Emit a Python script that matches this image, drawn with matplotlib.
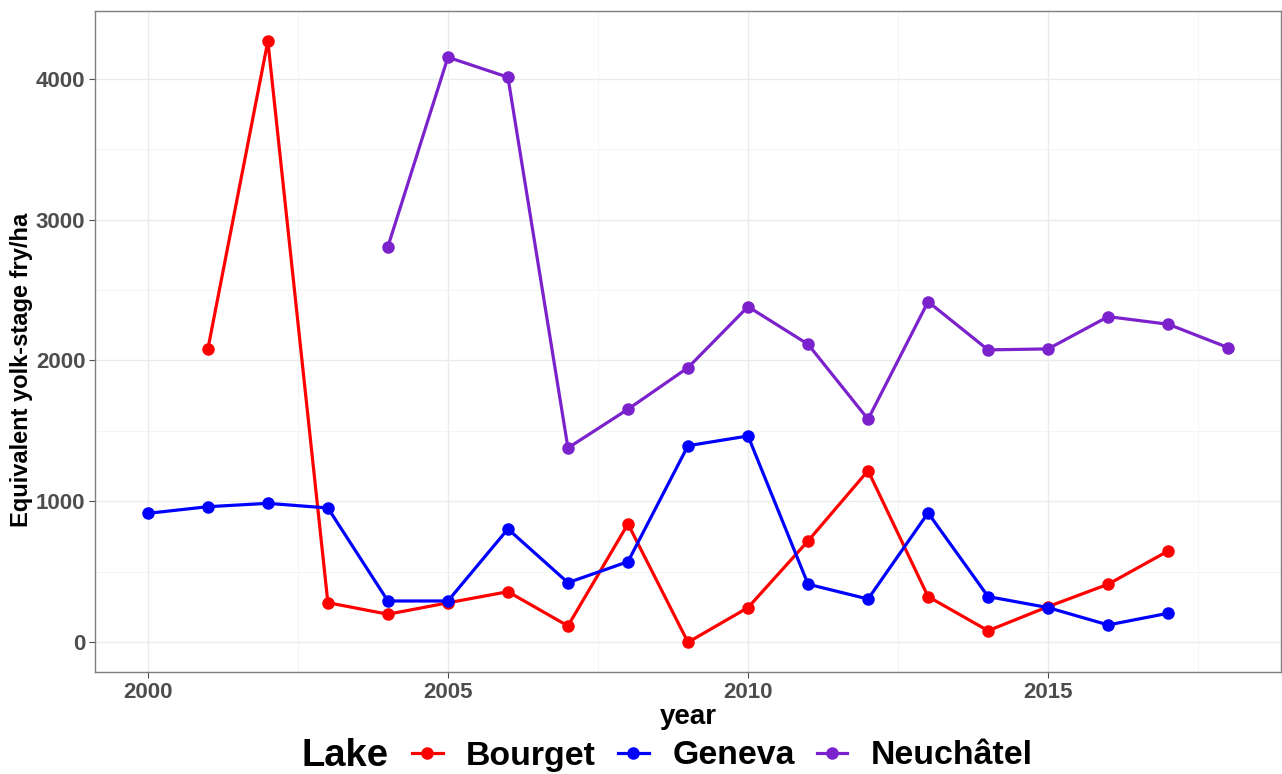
import matplotlib.pyplot as plt
from matplotlib.ticker import MultipleLocator

plt.rcParams['font.family'] = ['Liberation Sans', 'DejaVu Sans']

# data
bourget_years = list(range(2001, 2018))
bourget_vals = [2080, 4266, 281, 199, 280, 359, 116, 840, 0, 246,
                719, 1218, 324, 82, 253, 412, 648]

geneva_years = list(range(2000, 2018))
geneva_vals = [915, 962, 986, 953, 293, 293, 804, 423, 572, 1395,
               1464, 412, 307, 918, 324, 246, 123, 206]

neuch_years = list(range(2004, 2019))
neuch_vals = [2808, 4152, 4010, 1379, 1654, 1949, 2382, 2115, 1583,
              2417, 2075, 2082, 2311, 2257, 2091]

lakes = ['Bourget', 'Geneva', 'Neuchâtel']
colors = ['#ff0000', '#0000ff', '#7b22cc']

W, H = 1282, 774
fig = plt.figure(figsize=(W / 100, H / 100), dpi=100)
ax = fig.add_axes([95 / W, 1 - 672 / H, (1281 - 95) / W, (672 - 11) / H])

series = [(bourget_years, bourget_vals), (geneva_years, geneva_vals), (neuch_years, neuch_vals)]
handles = []
for (xs, ys), name, c in zip(series, lakes, colors):
    h, = ax.plot(xs, ys, color=c, lw=2.3, marker='o', ms=8, label=name)
    handles.append(h)

ax.set_xlim(1999.12, 2018.88)
ax.set_ylim(-211, 4480)
ax.xaxis.set_major_locator(MultipleLocator(5))
ax.xaxis.set_minor_locator(MultipleLocator(2.5))
ax.yaxis.set_major_locator(MultipleLocator(1000))
ax.yaxis.set_minor_locator(MultipleLocator(500))

ax.grid(which='major', color='#ebebeb', lw=1.0)
ax.grid(which='minor', color='#f2f2f2', lw=0.6)
ax.set_axisbelow(True)
for s in ax.spines.values():
    s.set_color('#7f7f7f')
    s.set_linewidth(1.0)

ax.tick_params(which='major', length=4, color='#4d4d4d', labelcolor='#4d4d4d',
               labelsize=16, pad=3)
ax.tick_params(which='minor', length=0)
for lab in ax.get_xticklabels() + ax.get_yticklabels():
    lab.set_fontweight('bold')

# axis titles placed as in the reference
fig.text(688 / W, 1 - 717 / H, 'year', fontsize=20, fontweight='bold',
         ha='center', va='center')
fig.text(22 / W, 1 - 370 / H, 'Equivalent yolk-stage fry/ha', fontsize=17,
         fontweight='bold', ha='center', va='center', rotation=90)

fig.text(389 / W, 1 - 756 / H, 'Lake', fontsize=27.5, fontweight='bold',
         ha='right', va='center')
fig.legend(handles=handles, labels=lakes, loc='center left',
           bbox_to_anchor=(412 / W, 1 - 756 / H), ncol=3, frameon=False,
           prop={'size': 24.4, 'weight': 'bold'}, handlelength=0.9,
           handletextpad=0.7, columnspacing=0.65, borderaxespad=0, borderpad=0)

fig.savefig('out.png', dpi=100)
